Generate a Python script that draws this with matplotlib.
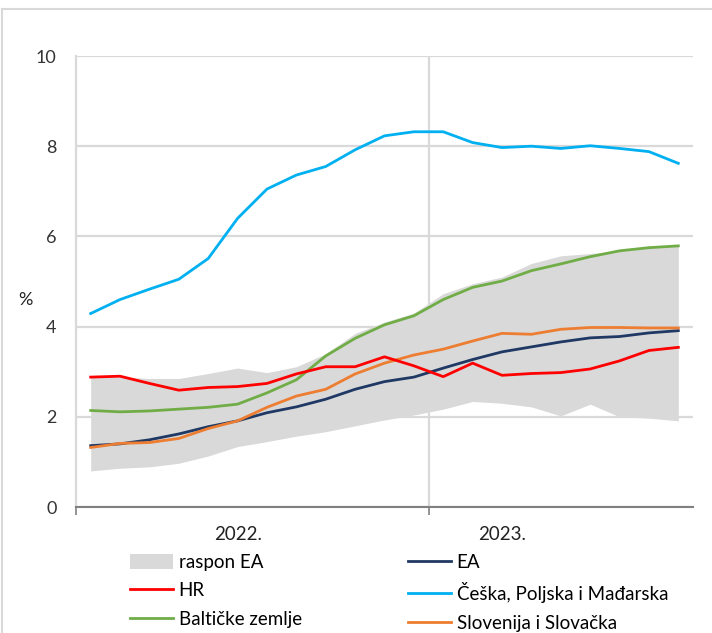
import numpy as np
import matplotlib.pyplot as plt
from matplotlib.patches import Patch
from matplotlib.lines import Line2D

plt.rcParams['font.family'] = ['Lato', 'DejaVu Sans']

# monthly points, Jan 2022 - Sep 2023
months = list(range(21))
year_labels = ["2022.", "2023."]
year_label_pos = [5, 14]

ea_low = [0.80, 0.86, 0.89, 0.97, 1.13, 1.34, 1.45, 1.57, 1.67, 1.80, 1.93,
          2.04, 2.17, 2.34, 2.30, 2.22, 2.02, 2.28, 2.00, 1.97, 1.91]
ea_high = [2.88, 2.88, 2.85, 2.85, 2.96, 3.08, 2.98, 3.11, 3.40, 3.85, 4.10,
           4.30, 4.73, 4.95, 5.10, 5.40, 5.57, 5.62, 5.68, 5.75, 5.79]
ea = [1.36, 1.40, 1.49, 1.62, 1.78, 1.91, 2.09, 2.22, 2.39, 2.61, 2.78,
      2.88, 3.08, 3.27, 3.44, 3.55, 3.66, 3.75, 3.78, 3.86, 3.91]
hr = [2.88, 2.90, 2.74, 2.59, 2.65, 2.67, 2.74, 2.95, 3.11, 3.11, 3.33,
      3.13, 2.89, 3.19, 2.92, 2.96, 2.98, 3.06, 3.24, 3.47, 3.54]
cz_pl_hu = [4.29, 4.60, 4.83, 5.05, 5.51, 6.40, 7.05, 7.36, 7.55, 7.92, 8.23,
            8.32, 8.32, 8.08, 7.97, 8.00, 7.95, 8.01, 7.95, 7.88, 7.62]
baltic = [2.14, 2.11, 2.13, 2.17, 2.21, 2.28, 2.53, 2.82, 3.35, 3.74, 4.04,
          4.24, 4.60, 4.87, 5.01, 5.24, 5.39, 5.55, 5.68, 5.75, 5.79]
si_sk = [1.32, 1.41, 1.43, 1.52, 1.74, 1.91, 2.21, 2.46, 2.61, 2.95, 3.19,
         3.37, 3.50, 3.68, 3.85, 3.83, 3.94, 3.98, 3.98, 3.97, 3.97]

fig = plt.figure(figsize=(7.12, 6.33), dpi=100)
ax = fig.add_axes([76 / 712, 1 - 507 / 633, 617 / 712, 451 / 633])

lw = 2.0
ax.fill_between(months, ea_low, ea_high, color="#d9d9d9", lw=0, zorder=1)
ax.plot(months, cz_pl_hu, color="#00b0f0", lw=lw, zorder=3)
ax.plot(months, baltic, color="#70ad47", lw=lw, zorder=3)
ax.plot(months, ea, color="#1f3864", lw=lw, zorder=4)
ax.plot(months, si_sk, color="#ed7d31", lw=lw, zorder=4)
ax.plot(months, hr, color="#ff0000", lw=lw, zorder=5)

ax.set_xlim(-0.5, 20.5)
ax.set_ylim(0, 10)
ax.set_yticks([0, 2, 4, 6, 8, 10])
ax.tick_params(axis="y", length=0, labelsize=13, pad=14, colors="#333333")
ax.set_xticks([-0.5, 11.5])
ax.set_xticklabels(["", ""])
ax.tick_params(axis="x", length=6, width=1.2, color="#808080", direction="out")
ax.grid(axis="y", color="#d9d9d9", lw=1.6, zorder=0)
ax.axvline(11.5, color="#d9d9d9", lw=1.6, zorder=0)
for s in ["top", "right"]:
    ax.spines[s].set_visible(False)
ax.spines["left"].set_color("#d9d9d9")
ax.spines["left"].set_linewidth(1.6)
ax.spines["bottom"].set_color("#808080")
ax.spines["bottom"].set_linewidth(1.5)
ax.spines["bottom"].set_zorder(6)

for lab, pos in zip(year_labels, year_label_pos):
    ax.text(pos, -0.62, lab, ha="center", va="center", fontsize=13.5, color="#222222")

fig.text(25 / 712, 1 - 300 / 633, "%", ha="center", va="center", fontsize=13, color="#222222")

# legend, two columns
h1 = [Patch(facecolor="#d9d9d9", edgecolor="none"),
      Line2D([], [], color="#ff0000", lw=lw),
      Line2D([], [], color="#70ad47", lw=lw)]
l1 = ["raspon EA", "HR", "Baltičke zemlje"]
h2 = [Line2D([], [], color="#1f3864", lw=lw),
      Line2D([], [], color="#00b0f0", lw=lw),
      Line2D([], [], color="#ed7d31", lw=lw)]
l2 = ["EA", "Češka, Poljska i Mađarska", "Slovenija i Slovačka"]
kw = dict(loc="upper left", frameon=False, fontsize=13.5, handlelength=2.3,
          handletextpad=0.3, labelspacing=0.6, borderpad=0, borderaxespad=0,
          handleheight=0.8)
fig.legend(h1, l1, bbox_to_anchor=(130 / 712, 1 - 554 / 633), **kw)
fig.legend(h2, l2, bbox_to_anchor=(408 / 712, 1 - 554 / 633), **kw)

# outer frame lines (top and left)
fig.add_artist(Line2D([2 / 712, 1], [1 - 9 / 633, 1 - 9 / 633], color="#d9d9d9", lw=1.5))
fig.add_artist(Line2D([2 / 712, 2 / 712], [0, 1 - 9 / 633], color="#d9d9d9", lw=1.5))

fig.savefig("out.png", dpi=100)
